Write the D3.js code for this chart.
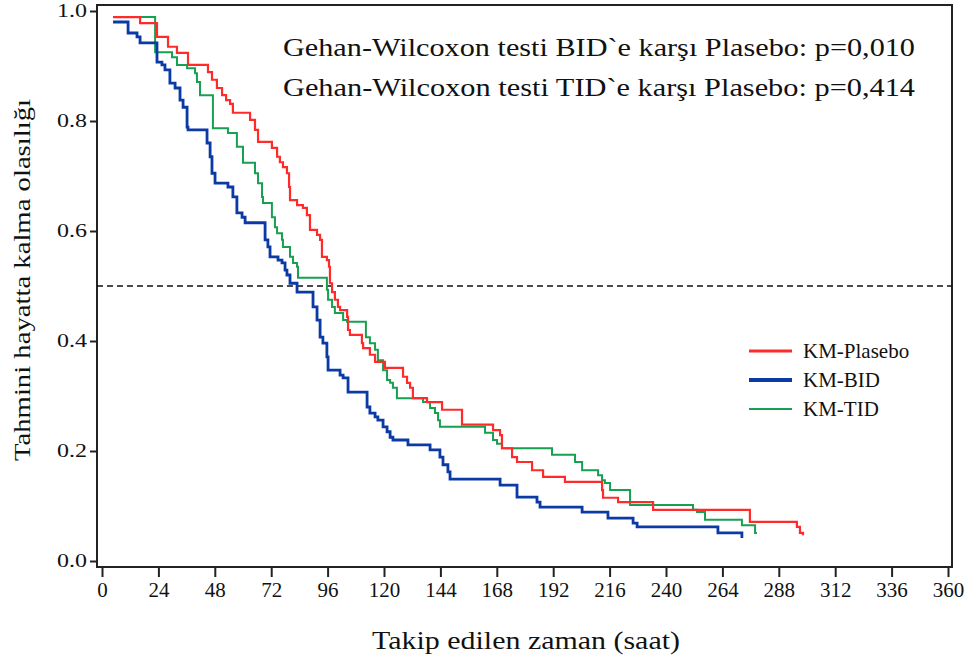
<!DOCTYPE html>
<html lang="tr">
<head>
<meta charset="UTF-8">
<title>Kaplan-Meier</title>
<script src="https://cdn.jsdelivr.net/npm/d3@7"></script>
<style>
  body { margin: 0; background: #fff; }
</style>
</head>
<body>
<svg id="chart" width="968" height="663"></svg>
<script>
// KM-Plasebo: event times (saat) and survival after each step
var placeboTime = [4.7, 16.2, 23.4, 28.1, 31.9, 36.6, 45.1, 46.8, 48.9, 51.1, 52.8, 54.5, 55.7, 63.0, 65.1, 66.4,
  72.3, 74.5, 75.7, 77.0, 78.7, 79.6, 80.0, 83.0, 85.5, 87.2, 88.5, 91.5, 92.8, 93.6, 95.7, 96.6, 97.0, 97.9,
  99.1, 100.4, 101.3, 104.3, 104.7, 105.5, 110.6, 111.1, 114.0, 116.2, 120.4, 128.1, 129.8, 131.1, 132.3,
  138.3, 144.7, 153.2, 166.4, 169.4, 170.2, 174.5, 176.6, 183.0, 187.7, 197.0, 212.8, 213.2, 219.6, 234.5,
  275.7, 295.7, 297.0, 298.3];
var placeboSurv = [0.989, 0.978, 0.953, 0.935, 0.924, 0.902, 0.889, 0.875, 0.860, 0.847, 0.838, 0.831, 0.815, 0.802, 0.784, 0.762,
  0.751, 0.735, 0.725, 0.716, 0.705, 0.680, 0.656, 0.647, 0.642, 0.629, 0.602, 0.593, 0.584, 0.553, 0.547, 0.535, 0.505, 0.489,
  0.475, 0.462, 0.456, 0.444, 0.420, 0.411, 0.396, 0.387, 0.375, 0.362, 0.351, 0.335, 0.324, 0.315, 0.296,
  0.289, 0.275, 0.248, 0.238, 0.229, 0.205, 0.189, 0.180, 0.165, 0.153, 0.144, 0.129, 0.115, 0.107, 0.093,
  0.071, 0.062, 0.051, 0.047];

// KM-BID
var bidTime = [4.7, 11.1, 14.9, 16.2, 23.4, 25.5, 26.8, 28.9, 31.1, 33.2, 34.5, 36.2, 36.6, 44.7, 46.0, 46.8, 48.1,
  53.6, 55.7, 57.4, 59.6, 60.9, 69.4, 70.6, 71.5, 74.9, 76.6, 77.9, 78.7, 80.0, 83.0, 89.8, 91.5, 92.8, 94.0,
  95.7, 96.2, 101.3, 102.6, 104.7, 112.8, 114.0, 116.2, 117.4, 119.6, 121.3, 122.6, 123.8, 130.2, 139.6,
  143.8, 145.1, 147.2, 148.1, 169.4, 176.6, 185.1, 186.4, 204.3, 215.3, 226.0, 227.7, 262.1, 272.3];
var bidSurv = [0.980, 0.960, 0.953, 0.942, 0.907, 0.902, 0.893, 0.869, 0.860, 0.838, 0.825, 0.789, 0.784, 0.760, 0.735, 0.705, 0.687,
  0.680, 0.662, 0.633, 0.625, 0.615, 0.584, 0.571, 0.553, 0.547, 0.542, 0.529, 0.520, 0.505, 0.489, 0.462, 0.438, 0.407, 0.396,
  0.371, 0.347, 0.338, 0.333, 0.307, 0.280, 0.269, 0.262, 0.256, 0.244, 0.235, 0.225, 0.220, 0.211, 0.202,
  0.189, 0.175, 0.162, 0.149, 0.138, 0.116, 0.107, 0.098, 0.089, 0.078, 0.069, 0.062, 0.051, 0.042];

// KM-TID
var tidTime = [4.7, 22.6, 29.8, 31.9, 36.2, 39.6, 40.4, 41.7, 47.2, 53.6, 57.4, 60.0, 65.1, 66.4, 68.1, 68.5, 72.3,
  73.6, 74.5, 76.6, 77.0, 80.0, 81.3, 83.0, 83.4, 95.7, 96.2, 97.9, 99.1, 102.6, 104.3, 112.3, 114.0, 116.2,
  117.4, 119.6, 121.3, 122.6, 123.8, 125.5, 136.6, 139.6, 141.7, 143.0, 143.8, 163.0, 166.4, 168.1, 170.2,
  191.5, 201.3, 204.3, 211.1, 212.8, 214.0, 216.2, 224.7, 251.5, 253.2, 256.6, 272.3, 277.9, 278.7];
var tidSurv = [0.989, 0.925, 0.916, 0.902, 0.896, 0.887, 0.871, 0.847, 0.787, 0.778, 0.753, 0.724, 0.705, 0.687, 0.662, 0.651, 0.625,
  0.607, 0.596, 0.584, 0.571, 0.553, 0.542, 0.535, 0.515, 0.493, 0.475, 0.462, 0.451, 0.438, 0.435, 0.407, 0.396, 0.384,
  0.365, 0.347, 0.329, 0.324, 0.315, 0.296, 0.289, 0.278, 0.269, 0.256, 0.244, 0.233, 0.220, 0.213, 0.205,
  0.193, 0.180, 0.165, 0.156, 0.147, 0.142, 0.129, 0.102, 0.093, 0.089, 0.075, 0.065, 0.051, 0.051];

var xTicks = [0, 24, 48, 72, 96, 120, 144, 168, 192, 216, 240, 264, 288, 312, 336, 360];
var yTicks = [0.0, 0.2, 0.4, 0.6, 0.8, 1.0];
var seriesNames = ["KM-Plasebo", "KM-BID", "KM-TID"];
var seriesColors = ["#ff2b2b", "#0b3aa4", "#17a04f"];
var noteLines = ["Gehan-Wilcoxon testi BID`e karşı Plasebo: p=0,010",
                 "Gehan-Wilcoxon testi TID`e karşı Plasebo: p=0,414"];

var serif = "'Liberation Serif', 'Times New Roman', Times, serif";

var svg = d3.select("#chart");
var x = d3.scaleLinear().domain([0, 360]).range([102, 948]);
var y = d3.scaleLinear().domain([0, 1]).range([561, 11]);

// frame
svg.append("rect")
    .attr("x", 97).attr("y", 5)
    .attr("width", 855).attr("height", 562)
    .attr("fill", "none").attr("stroke", "#222").attr("stroke-width", 2);

// x axis
var xAxis = svg.append("g")
    .attr("transform", "translate(0,567)")
    .call(d3.axisBottom(x).tickValues(xTicks).tickSize(10).tickPadding(6).tickFormat(d3.format("d")));
xAxis.attr("font-family", serif).attr("font-size", 20);
xAxis.select(".domain").remove();
xAxis.selectAll("line").attr("stroke", "#222").attr("stroke-width", 2);
xAxis.selectAll("text").attr("fill", "#111")
    .attr("textLength", function (d) { return String(d).length * 10.5; })
    .attr("lengthAdjust", "spacingAndGlyphs");

// y axis
var yAxis = svg.append("g")
    .attr("transform", "translate(97,0)")
    .call(d3.axisLeft(y).tickValues(yTicks).tickSize(7).tickPadding(3).tickFormat(d3.format(".1f")));
yAxis.attr("font-family", serif).attr("font-size", 18);
yAxis.select(".domain").remove();
yAxis.selectAll("line").attr("stroke", "#222").attr("stroke-width", 2);
yAxis.selectAll("text").attr("fill", "#111")
    .attr("textLength", 30).attr("lengthAdjust", "spacingAndGlyphs");

// median line
svg.append("line")
    .attr("x1", 97).attr("x2", 952)
    .attr("y1", y(0.5)).attr("y2", y(0.5))
    .attr("stroke", "#111").attr("stroke-width", 1.5)
    .attr("stroke-dasharray", "6,4");

// curves
var line = d3.line()
    .x(function (d) { return x(d[0]); })
    .y(function (d) { return y(d[1]); })
    .curve(d3.curveStepAfter);

var series = [d3.zip(placeboTime, placeboSurv), d3.zip(bidTime, bidSurv), d3.zip(tidTime, tidSurv)];
var widths = [2.2, 2.8, 2];
// draw TID first, then BID, then placebo on top
[2, 1, 0].forEach(function (i) {
    svg.append("path")
        .datum(series[i])
        .attr("d", line)
        .attr("fill", "none")
        .attr("stroke", seriesColors[i])
        .attr("stroke-width", widths[i]);
});

// legend
var legendY = [351, 380, 409];
seriesNames.forEach(function (name, i) {
    svg.append("line")
        .attr("x1", 749).attr("x2", 792)
        .attr("y1", legendY[i]).attr("y2", legendY[i])
        .attr("stroke", seriesColors[i]).attr("stroke-width", [3, 4, 2][i]);
    svg.append("text")
        .attr("x", 803).attr("y", legendY[i] + 7)
        .attr("font-family", serif)
        .attr("font-size", 21)
        .attr("fill", "#111")
        .text(name);
});

// notes
noteLines.forEach(function (t, i) {
    svg.append("text")
        .attr("x", 283).attr("y", 56 + i * 40)
        .attr("textLength", 632).attr("lengthAdjust", "spacingAndGlyphs")
        .attr("font-family", serif)
        .attr("font-size", 26)
        .attr("fill", "#111")
        .text(t);
});

// axis titles
svg.append("text")
    .attr("x", 526).attr("y", 649)
    .attr("text-anchor", "middle")
    .attr("textLength", 308).attr("lengthAdjust", "spacingAndGlyphs")
    .attr("font-family", serif)
    .attr("font-size", 26)
    .attr("fill", "#111")
    .text("Takip edilen zaman (saat)");

svg.append("text")
    .attr("transform", "translate(30,280) rotate(-90)")
    .attr("text-anchor", "middle")
    .attr("textLength", 362).attr("lengthAdjust", "spacingAndGlyphs")
    .attr("font-family", serif)
    .attr("font-size", 24)
    .attr("fill", "#111")
    .text("Tahmini hayatta kalma olasılığı");
</script>
</body>
</html>
